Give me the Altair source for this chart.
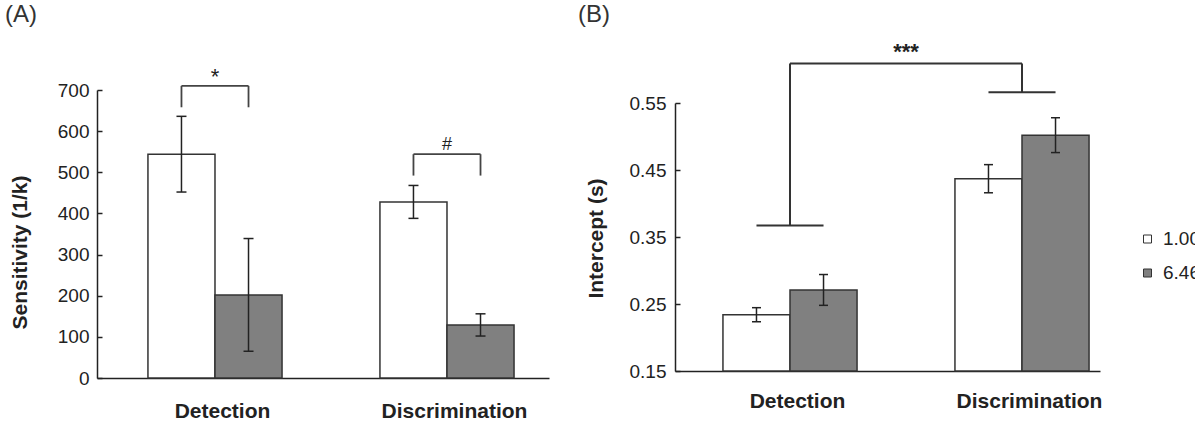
import altair as alt
import pandas as pd

FONT = "Liberation Sans"
INK = "#222222"

# ---------------- data ----------------
categories = ["Detection", "Discrimination"]
series = ["1.00", "6.46"]
series_colors = ["#ffffff", "#808080"]

# Panel A : sensitivity (1/k)
sens_100 = [544, 428]
sens_646 = [202, 129]
sens_err_100 = [92, 40]
sens_err_646 = [137, 27]
sens_ticks = [0, 100, 200, 300, 400, 500, 600, 700]

# Panel B : intercept (s)
icpt_100 = [0.234, 0.437]
icpt_646 = [0.271, 0.502]
icpt_err_100 = [0.0105, 0.021]
icpt_err_646 = [0.023, 0.026]
icpt_ticks = [0.15, 0.25, 0.35, 0.45, 0.55]

# significance annotations
a_marks = ["*", "#"]
a_bracket_top = [710, 544]
a_bracket_leg = [658, 492]
a_mark_y = [714, 554]

b_mark = "***"
b_bracket_top = 0.609
b_bracket_left = 0.367
b_bracket_right = 0.566
b_mark_y = 0.615

panel_labels = ["(A)", "(B)"]

# ---------------- layout helpers ----------------
BW = 0.289  # bar width in category units


def bar_table(v100, v646, e100, e646):
    rows = []
    for g, cat in enumerate(categories):
        for s, (vals, errs) in enumerate([(v100, e100), (v646, e646)]):
            x0 = g + (s - 1) * BW
            x1 = g + s * BW
            rows.append(dict(category=cat, series=series[s], x0=x0, x1=x1,
                             xc=(x0 + x1) / 2, val=vals[g],
                             lo=vals[g] - errs[g], hi=vals[g] + errs[g]))
    return pd.DataFrame(rows)


def cap_table(df):
    rows = []
    for _, r in df.iterrows():
        rows.append(dict(x=r.xc, y=r.lo))
        rows.append(dict(x=r.xc, y=r.hi))
    return pd.DataFrame(rows)


dfA = bar_table(sens_100, sens_646, sens_err_100, sens_err_646)
dfB = bar_table(icpt_100, icpt_646, icpt_err_100, icpt_err_646)

segA = []
for g in range(len(categories)):
    xl, xr = g - BW / 2, g + BW / 2
    segA.append(dict(x=xl, x2=xr, y=a_bracket_top[g], y2=a_bracket_top[g]))
    segA.append(dict(x=xl, x2=xl, y=a_bracket_leg[g], y2=a_bracket_top[g]))
    segA.append(dict(x=xr, x2=xr, y=a_bracket_leg[g], y2=a_bracket_top[g]))
segA = pd.DataFrame(segA)

segB = pd.DataFrame([
    dict(x=-BW / 2, x2=BW / 2, y=b_bracket_left, y2=b_bracket_left),
    dict(x=0, x2=0, y=b_bracket_left, y2=b_bracket_top),
    dict(x=0, x2=1, y=b_bracket_top, y2=b_bracket_top),
    dict(x=1, x2=1, y=b_bracket_right, y2=b_bracket_top),
    dict(x=1 - BW / 2, x2=1 + BW / 2, y=b_bracket_right, y2=b_bracket_right),
])

label_expr = f"datum.value < 0.5 ? '{categories[0]}' : '{categories[1]}'"


def x_axis(offset, pad):
    return alt.Axis(orient="bottom", offset=offset, values=[0, 1], labelExpr=label_expr,
                    ticks=False, labelPadding=pad, labelOffset=7,
                    labelFont=FONT, labelFontSize=21, labelFontWeight="bold",
                    labelColor=INK, labelFlush=False, labelOverlap=False,
                    domainColor=INK, domainWidth=1.5, grid=False, title=None)


def y_axis(offset, values, fmt, pad, title, tx, ty):
    return alt.Axis(orient="left", offset=offset, values=values, format=fmt,
                    ticks=False, labelPadding=pad,
                    labelFont=FONT, labelFontSize=19, labelColor=INK,
                    labelOverlap=False, labelFlush=False,
                    domainColor=INK, domainWidth=1.5, grid=False,
                    title=title, titleFont=FONT, titleFontSize=21, titleFontWeight="bold",
                    titleColor=INK, titleAngle=270, titleAlign="center",
                    titleBaseline="middle", titleX=tx, titleY=ty)


def tick_axis(offset, values):
    return alt.Axis(orient="right", offset=offset, values=values, labels=False,
                    domain=False, tickSize=5, tickColor=INK, tickWidth=1.5,
                    grid=False, title=None)


color_scale = alt.Scale(domain=series, range=series_colors)


def panel(df, segs, xs, ys, xax, yax, tax, base_val, cap, legend, bracket_color, bracket_w):
    bars = alt.Chart(df).mark_bar(stroke="#333333", strokeWidth=1.5).encode(
        x=alt.X("x0:Q", scale=xs, axis=xax),
        x2="x1:Q",
        y=alt.Y("val:Q", scale=ys, axis=yax),
        y2=alt.datum(base_val),
        color=alt.Color("series:N", scale=color_scale, legend=legend),
    )
    err = alt.Chart(df).mark_rule(color=INK, strokeWidth=1.5).encode(
        x=alt.X("xc:Q", scale=xs),
        y=alt.Y("lo:Q", scale=ys, axis=tax),
        y2="hi:Q",
    )
    caps = alt.Chart(cap_table(df)).mark_tick(
        orient="horizontal", size=cap, thickness=1.5, color=INK, opacity=1
    ).encode(
        x=alt.X("x:Q", scale=xs),
        y=alt.Y("y:Q", scale=ys, axis=None),
    )
    br = alt.Chart(segs).mark_rule(color=bracket_color, strokeWidth=bracket_w).encode(
        x=alt.X("x:Q", scale=xs), x2="x2:Q",
        y=alt.Y("y:Q", scale=ys, axis=None), y2="y2:Q",
    )
    return [bars, err, caps, br]


xsA = alt.Scale(domain=[-0.5086, 1.4397], range=[0, 452], nice=False, zero=False)
ysA = alt.Scale(domain=[0, 700], nice=False, zero=False)
xsB = alt.Scale(domain=[-0.4957, 1.3362], range=[578, 1003], nice=False, zero=False)
ysB = alt.Scale(domain=[0.15, 0.55], range=[281, 13], nice=False, zero=False)

legend = alt.Legend(orient="none", legendX=1041, legendY=139.5, title=None,
                    symbolType="square", symbolSize=64, symbolStrokeColor="#333333",
                    symbolStrokeWidth=1, symbolOpacity=1, labelFont=FONT, labelFontSize=19,
                    labelColor=INK, labelOffset=6, rowPadding=14, padding=0)

layersA = panel(dfA, segA, xsA, ysA, x_axis(0, 22.5),
                y_axis(0, sens_ticks, "d", 8, "Sensitivity  (1/k)", -77, 162),
                tick_axis(-1003, sens_ticks), 0, 10, legend, "#444444", 1.8)

textA1 = alt.Chart(pd.DataFrame({"x": [0], "y": [a_mark_y[0]], "t": [a_marks[0]]})).mark_text(
    font=FONT, fontSize=22, color=INK, baseline="alphabetic", align="center"
).encode(x=alt.X("x:Q", scale=xsA), y=alt.Y("y:Q", scale=ysA, axis=None), text="t:N")
textA2 = alt.Chart(pd.DataFrame({"x": [1], "y": [a_mark_y[1]], "t": [a_marks[1]]})).mark_text(
    font=FONT, fontSize=18, color=INK, baseline="alphabetic", align="center"
).encode(x=alt.X("x:Q", scale=xsA), y=alt.Y("y:Q", scale=ysA, axis=None), text="t:N")
labA = alt.Chart(pd.DataFrame({"label": [panel_labels[0]]})).mark_text(
    font=FONT, fontSize=24, color="#333333", baseline="alphabetic", align="left"
).encode(text="label:N", x=alt.value(-92), y=alt.value(-68))

panelA = alt.layer(*layersA, textA1, textA2, labA).resolve_axis(y="independent")

layersB = panel(dfB, segB, xsB, ysB, x_axis(-7, 19.5),
                y_axis(-578, icpt_ticks, ".2f", 9, "Intercept (s)", -79, 148),
                tick_axis(-425, icpt_ticks), 0.15, 9, None, "#333333", 2)

textB = alt.Chart(pd.DataFrame({"x": [0.5], "y": [b_mark_y], "t": [b_mark]})).mark_text(
    font=FONT, fontSize=22, fontWeight="bold", color=INK, baseline="alphabetic", align="center"
).encode(x=alt.X("x:Q", scale=xsB), y=alt.Y("y:Q", scale=ysB, axis=None), text="t:N")
labB = alt.Chart(pd.DataFrame({"label": [panel_labels[1]]})).mark_text(
    font=FONT, fontSize=24, color="#333333", baseline="alphabetic", align="left"
).encode(text="label:N", x=alt.value(481), y=alt.value(-68))

panelB = alt.layer(*layersB, textB, labB).resolve_axis(y="independent")

chart = alt.layer(panelA, panelB).resolve_scale(
    x="independent", y="independent"
).properties(
    width=1003, height=288,
    padding={"left": 97, "top": 90, "right": 95, "bottom": 45},
    autosize=alt.AutoSizeParams(type="none"),
    background="white",
).configure_view(stroke=None)

chart.save("out.html", embed_options={"renderer": "svg", "actions": False})
